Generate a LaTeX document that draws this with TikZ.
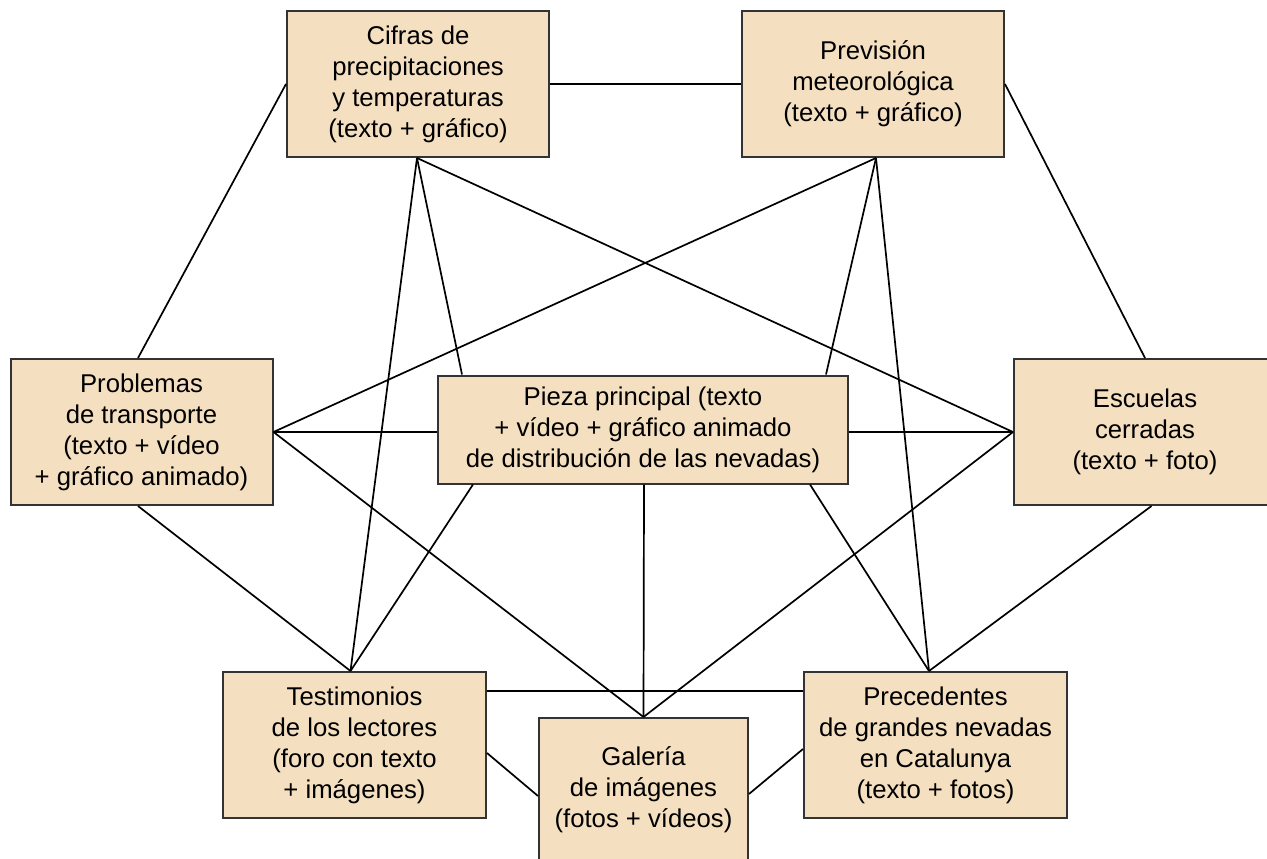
\documentclass[tikz,border=0pt]{standalone}
\usepackage{fontspec}
\setmainfont{Liberation Sans}
\definecolor{boxfill}{HTML}{F4E0C1}
\definecolor{boxline}{HTML}{333333}
\tikzset{
  box/.style={draw=boxline, line width=2pt, fill=boxfill, align=center, inner sep=0pt,
    minimum width=262pt, minimum height=146pt, font=\fontsize{25.7}{31}\selectfont},
  link/.style={draw=black, line width=1.7pt},
}
\begin{document}
\begin{tikzpicture}[x=1pt,y=-1pt]
\useasboundingbox (0,0) rectangle (1267,859);
\node[box] (cif) at (418,84) {Cifras de\\precipitaciones\\y temperaturas\\(texto + gráfico)};
\node[box] (prev) at (873,84) {Previsión\\meteorológica\\(texto + gráfico)};
\node[box] (prob) at (141.5,432) {Problemas\\de transporte\\(texto + vídeo\\+ gráfico animado)};
\node[box, minimum width=410pt, minimum height=108pt] (pieza) at (643,429.5) {Pieza principal (texto\\+ vídeo + gráfico animado\\de distribución de las nevadas)};
\node[box] (esc) at (1145,432) {Escuelas\\cerradas\\(texto + foto)};
\node[box, minimum width=263pt] (test) at (354.5,745) {Testimonios\\de los lectores\\(foro con texto\\+ imágenes)};
\node[box, minimum width=209pt, minimum height=144pt] (gal) at (643.5,790) {Galería\\de imágenes\\(fotos + vídeos)};
\node[box, minimum width=263pt] (prec) at (935.5,745) {Precedentes\\de grandes nevadas\\en Catalunya\\(texto + fotos)};

\draw[link] (cif.east) -- (prev.west);
\draw[link] (cif.west) -- ([xshift=-3.5pt]prob.north);
\draw[link] (prev.east) -- (esc.north);
\draw[link] ([xshift=-1pt]cif.south) -- ([xshift=25pt]pieza.north west);
\draw[link] ([xshift=-1pt]cif.south) -- ([xshift=-4pt]test.north);
\draw[link] ([xshift=-1pt]cif.south) -- (esc.west);
\draw[link] ([xshift=3pt]prev.south) -- (prob.east);
\draw[link] ([xshift=3pt]prev.south) -- ([xshift=-23pt]pieza.north east);
\draw[link] ([xshift=3pt]prev.south) -- ([xshift=-6.5pt]prec.north);
\draw[link] (prob.east) -- ([yshift=-2.5pt]pieza.west);
\draw[link] ([yshift=-2.5pt]pieza.east) -- (esc.west);
\draw[link] (prob.east) -- (gal.north);
\draw[link] ([xshift=-3.5pt]prob.south) -- ([xshift=-4pt]test.north);
\draw[link] ([xshift=36pt]pieza.south west) -- ([xshift=-4pt]test.north);
\draw[link] ([xshift=1pt]pieza.south) -- (gal.north);
\draw[link] ([xshift=-39pt]pieza.south east) -- ([xshift=-6.5pt]prec.north);
\draw[link] (esc.west) -- (gal.north);
\draw[link] ([xshift=6.5pt]esc.south) -- ([xshift=-6.5pt]prec.north);
\draw[link] ([yshift=-20pt]test.north east) -- ([yshift=-20pt]prec.north west);
\draw[link] ([yshift=-8pt]test.east) -- ([yshift=-6pt]gal.west);
\draw[link] ([yshift=-4pt]gal.east) -- ([yshift=-4pt]prec.west);
\end{tikzpicture}
\end{document}
